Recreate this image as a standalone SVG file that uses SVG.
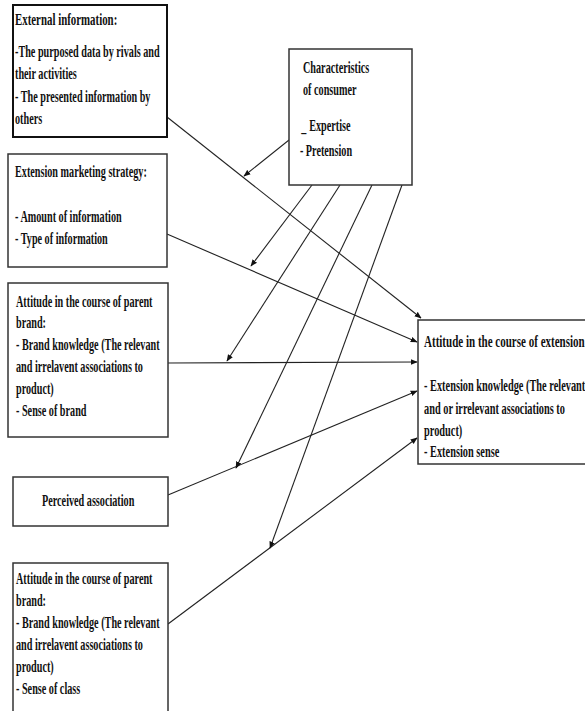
<svg xmlns="http://www.w3.org/2000/svg" width="585" height="711" viewBox="0 0 585 711">
<style>
.box{fill:#fff;stroke:#333;stroke-width:1.5}
.t{font-family:"Liberation Serif","Times New Roman",serif;font-weight:bold;font-size:16.5px;fill:#111}
.h{font-size:17.6px}
.c{fill:none;stroke:#222;stroke-width:1.1}
</style>
<defs>
<marker id="ah" viewBox="0 0 10 10" refX="9" refY="5" markerWidth="7" markerHeight="7" orient="auto" markerUnits="userSpaceOnUse">
<path d="M0,1 L10,5 L0,9 Z" fill="#111"/>
</marker>
</defs>
<rect width="585" height="711" fill="#fff"/>

<g id="connectors">
<line class="c" x1="167" y1="117" x2="421" y2="318" marker-end="url(#ah)"/>
<line class="c" x1="167" y1="234" x2="417" y2="342" marker-end="url(#ah)"/>
<line class="c" x1="168" y1="363" x2="417" y2="362" marker-end="url(#ah)"/>
<line class="c" x1="168" y1="495" x2="417" y2="391" marker-end="url(#ah)"/>
<line class="c" x1="168" y1="624" x2="417" y2="438" marker-end="url(#ah)"/>
<line class="c" x1="289" y1="140" x2="244" y2="176" marker-end="url(#ah)"/>
<line class="c" x1="312" y1="185" x2="251" y2="266" marker-end="url(#ah)"/>
<line class="c" x1="340" y1="185" x2="227" y2="361" marker-end="url(#ah)"/>
<line class="c" x1="372" y1="185" x2="236" y2="468" marker-end="url(#ah)"/>
<line class="c" x1="402" y1="185" x2="270" y2="548" marker-end="url(#ah)"/>
</g>

<g id="external-information">
<rect class="box" x="13" y="5" width="154" height="132" style="stroke:#111;stroke-width:2"/>
<g transform="matrix(0.618 0 0 1 15 0)">
<text class="t h" x="0" y="25">External information:</text>
<text class="t" x="0" y="57">-The purposed data by rivals and</text>
<text class="t" x="0" y="79">their activities</text>
<text class="t" x="0" y="102">- The presented information by</text>
<text class="t" x="0" y="124">others</text>
</g>
</g>

<g id="extension-marketing-strategy">
<rect class="box" x="8" y="154" width="159" height="113"/>
<g transform="matrix(0.618 0 0 1 15 0)">
<text class="t" x="0" y="177">Extension marketing strategy:</text>
<text class="t" x="0" y="222">- Amount of information</text>
<text class="t" x="0" y="244">- Type of information</text>
</g>
</g>

<g id="characteristics-of-consumer">
<rect class="box" x="289" y="49" width="123" height="136"/>
<g transform="matrix(0.618 0 0 1 303 0)">
<text class="t" x="0" y="73">Characteristics</text>
<text class="t" x="0" y="95">of consumer</text>
<text class="t" x="-3" y="132">_</text>
<text class="t" x="10" y="131">Expertise</text>
<text class="t" x="-5" y="156">- Pretension</text>
</g>
</g>

<g id="attitude-parent-brand">
<rect class="box" x="8" y="283" width="160" height="154"/>
<g transform="matrix(0.618 0 0 1 16 0)">
<text class="t" x="0" y="307">Attitude in the course of parent</text>
<text class="t" x="0" y="328">brand:</text>
<text class="t" x="0" y="350">- Brand knowledge (The relevant</text>
<text class="t" x="0" y="372">and irrelavent associations to</text>
<text class="t" x="0" y="394">product)</text>
<text class="t" x="0" y="416">- Sense of brand</text>
</g>
</g>

<g id="perceived-association">
<rect class="box" x="13" y="477" width="155" height="49"/>
<g transform="matrix(0.618 0 0 1 42 0)">
<text class="t" x="0" y="506">Perceived association</text>
</g>
</g>

<g id="attitude-parent-brand-class">
<rect class="box" x="13" y="563" width="155" height="160"/>
<g transform="matrix(0.618 0 0 1 16 0)">
<text class="t" x="0" y="584">Attitude in the course of parent</text>
<text class="t" x="0" y="606">brand:</text>
<text class="t" x="0" y="628">- Brand knowledge (The relevant</text>
<text class="t" x="0" y="650">and irrelavent associations to</text>
<text class="t" x="0" y="672">product)</text>
<text class="t" x="0" y="694">- Sense of class</text>
</g>
</g>

<g id="attitude-extension">
<rect class="box" x="418" y="320" width="180" height="144"/>
<g transform="matrix(0.627 0 0 1 424 0)">
<text class="t h" x="0" y="347">Attitude in the course of extension</text>
<text class="t" x="0" y="391">- Extension knowledge (The relevant</text>
<text class="t" x="0" y="414">and or irrelevant associations to</text>
<text class="t" x="0" y="436">product)</text>
<text class="t" x="0" y="457">- Extension sense</text>
</g>
</g>
</svg>
